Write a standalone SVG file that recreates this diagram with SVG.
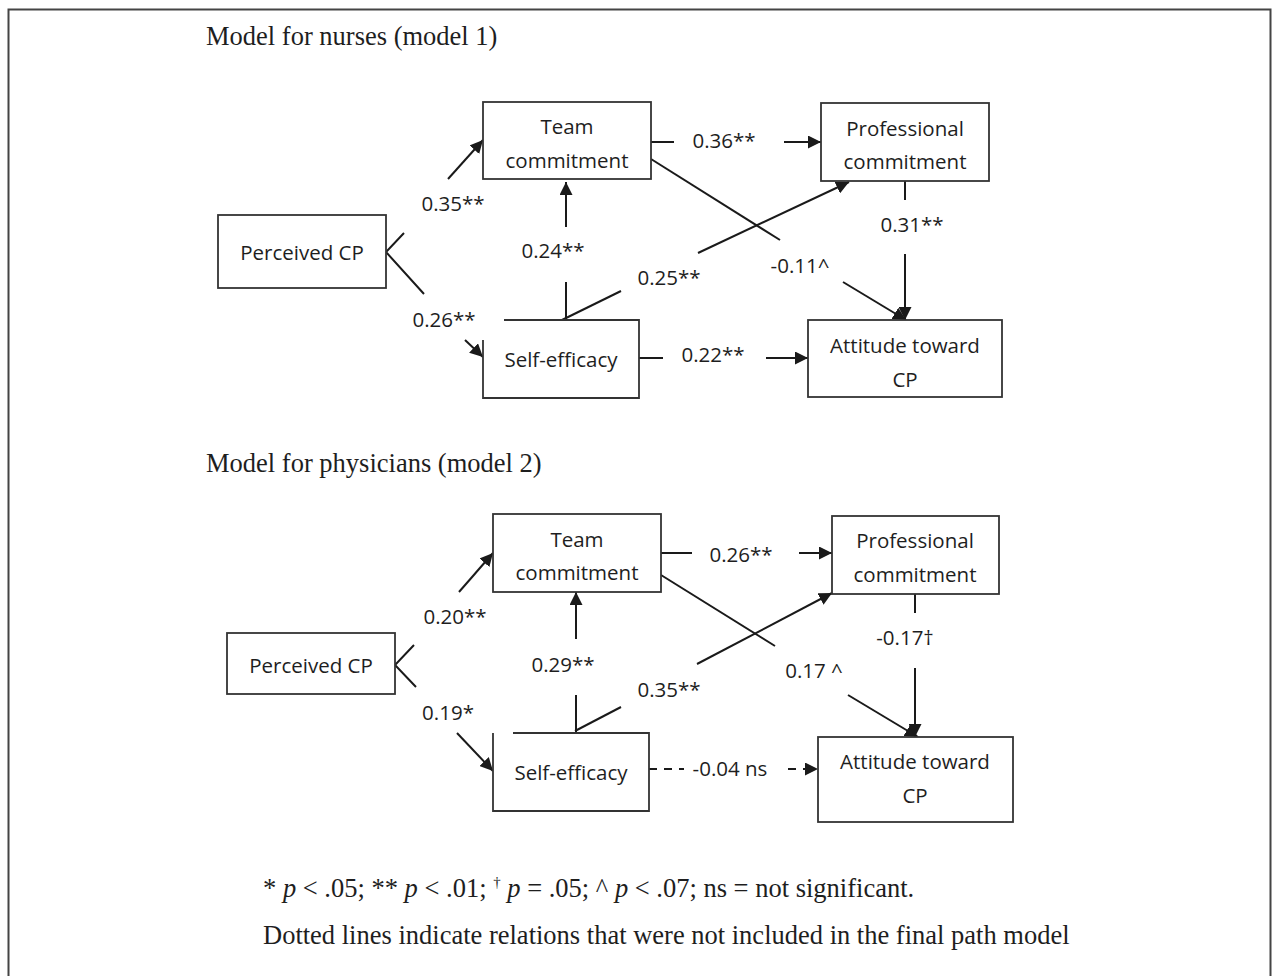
<svg xmlns="http://www.w3.org/2000/svg" width="1273" height="976" viewBox="0 0 1273 976">
<style>
.box{fill:#fff;stroke:#333;stroke-width:1.8}
.nt{font-family:"Open Sans","Liberation Sans",sans-serif;font-size:20.5px;fill:#1e1e1e;text-anchor:middle}
.lb{font-family:"Open Sans","Liberation Sans",sans-serif;font-size:20.5px;fill:#1e1e1e;text-anchor:middle}
.ser{font-family:"Liberation Serif","Times New Roman",serif;font-size:26.5px;fill:#1e1e1e}
.ln{stroke:#1a1a1a;stroke-width:2;fill:none}
.ar{stroke:#1a1a1a;stroke-width:2;fill:none;marker-end:url(#ah)}
.dash{stroke-dasharray:8 7}
</style>
<defs>
<marker id="ah" markerUnits="userSpaceOnUse" markerWidth="14" markerHeight="13" refX="13" refY="6.5" orient="auto">
<path d="M0,0 L13,6.5 L0,13 z" fill="#1a1a1a"/>
</marker>
</defs>
<rect width="1273" height="976" fill="#fff"/>
<path d="M8.5,976 V9.5 H1270.5 V976" fill="none" stroke="#444" stroke-width="2"/>

<text class="ser" x="206" y="45">Model for nurses (model 1)</text>
<text class="ser" x="206" y="472">Model for physicians (model 2)</text>

<g id="connectors">
  <!-- model 1 -->
  <path class="ln" d="M404,233 L386,252 L424,294"/>
  <path class="ar" d="M448,179 L483,140"/>
  <path class="ar" d="M465,340 L483,357"/>
  <path class="ln" d="M566,320 V282"/>
  <path class="ar" d="M566,227 V182"/>
  <path class="ln" d="M562,320 L621,291"/>
  <path class="ar" d="M698,253 L849,182"/>
  <path class="ln" d="M651,159 L780,240"/>
  <path class="ar" d="M843,282 L906,320"/>
  <path class="ln" d="M651,142 H674"/>
  <path class="ar" d="M784,142 H821"/>
  <path class="ln" d="M905,181 V200"/>
  <path class="ar" d="M905,254 V320"/>
  <path class="ln" d="M639,358 H663"/>
  <path class="ar" d="M766,358 H808"/>
  <!-- model 2 -->
  <path class="ln" d="M414,645 L395,665 L416,687"/>
  <path class="ar" d="M459,592 L493,553"/>
  <path class="ar" d="M457,733 L493,771"/>
  <path class="ln" d="M576,733 V695"/>
  <path class="ar" d="M576,639 V592"/>
  <path class="ln" d="M575,731 L621,707"/>
  <path class="ar" d="M697,664 L832,593"/>
  <path class="ln" d="M661,575 L775,646"/>
  <path class="ar" d="M848,695 L918,737"/>
  <path class="ln" d="M661,553 H692"/>
  <path class="ar" d="M799,553 H832"/>
  <path class="ln" d="M915,594 V613"/>
  <path class="ar" d="M915,668 V737"/>
  <path class="ln dash" d="M649,769 H684"/>
  <path class="ar dash" d="M788,769 H818"/>
</g>

<g id="labels">
  <text class="lb" x="453" y="211">0.35**</text>
  <text class="lb" x="444" y="327">0.26**</text>
  <text class="lb" x="553" y="258">0.24**</text>
  <text class="lb" x="669" y="285">0.25**</text>
  <text class="lb" x="800" y="273">-0.11^</text>
  <text class="lb" x="724" y="148">0.36**</text>
  <text class="lb" x="912" y="232">0.31**</text>
  <text class="lb" x="713" y="362">0.22**</text>

  <text class="lb" x="455" y="624">0.20**</text>
  <text class="lb" x="448" y="720">0.19*</text>
  <text class="lb" x="563" y="672">0.29**</text>
  <text class="lb" x="669" y="697">0.35**</text>
  <text class="lb" x="814" y="678">0.17 ^</text>
  <text class="lb" x="741" y="562">0.26**</text>
  <text class="lb" x="905" y="645">-0.17†</text>
  <text class="lb" x="730" y="776">-0.04 ns</text>
</g>

<!-- model 1 nodes -->
<g id="m1-perceived">
  <rect class="box" x="218" y="215" width="168" height="73"/>
  <text class="nt" x="302" y="260">Perceived CP</text>
</g>
<g id="m1-team">
  <rect class="box" x="483" y="102" width="168" height="77"/>
  <text class="nt" x="567" y="134">Team</text>
  <text class="nt" x="567" y="168">commitment</text>
</g>
<g id="m1-selfeff">
  <path class="box" d="M504,320 H639 V398 H483 V340"/>
  <text class="nt" x="561" y="367">Self-efficacy</text>
</g>
<g id="m1-prof">
  <rect class="box" x="821" y="103" width="168" height="78"/>
  <text class="nt" x="905" y="136">Professional</text>
  <text class="nt" x="905" y="169">commitment</text>
</g>
<g id="m1-att">
  <rect class="box" x="808" y="320" width="194" height="77"/>
  <text class="nt" x="905" y="353">Attitude toward</text>
  <text class="nt" x="905" y="387">CP</text>
</g>

<!-- model 2 nodes -->
<g id="m2-perceived">
  <rect class="box" x="227" y="633" width="168" height="61"/>
  <text class="nt" x="311" y="673">Perceived CP</text>
</g>
<g id="m2-team">
  <rect class="box" x="493" y="514" width="168" height="78"/>
  <text class="nt" x="577" y="547">Team</text>
  <text class="nt" x="577" y="580">commitment</text>
</g>
<g id="m2-selfeff">
  <path class="box" d="M513,733 H649 V811 H493 V733"/>
  <text class="nt" x="571" y="780">Self-efficacy</text>
</g>
<g id="m2-prof">
  <rect class="box" x="832" y="516" width="167" height="78"/>
  <text class="nt" x="915" y="548">Professional</text>
  <text class="nt" x="915" y="582">commitment</text>
</g>
<g id="m2-att">
  <rect class="box" x="818" y="737" width="195" height="85"/>
  <text class="nt" x="915" y="769">Attitude toward</text>
  <text class="nt" x="915" y="803">CP</text>
</g>

<g id="footnotes">
  <text class="ser" x="263" y="897">* <tspan font-style="italic">p</tspan> &lt; .05; ** <tspan font-style="italic">p</tspan> &lt; .01; <tspan font-size="15" dy="-10">†</tspan><tspan dy="10"> </tspan><tspan font-style="italic">p</tspan> = .05; ^ <tspan font-style="italic">p</tspan> &lt; .07; ns = not significant.</text>
  <text class="ser" x="263" y="944">Dotted lines indicate relations that were not included in the final path model</text>
</g>
</svg>
